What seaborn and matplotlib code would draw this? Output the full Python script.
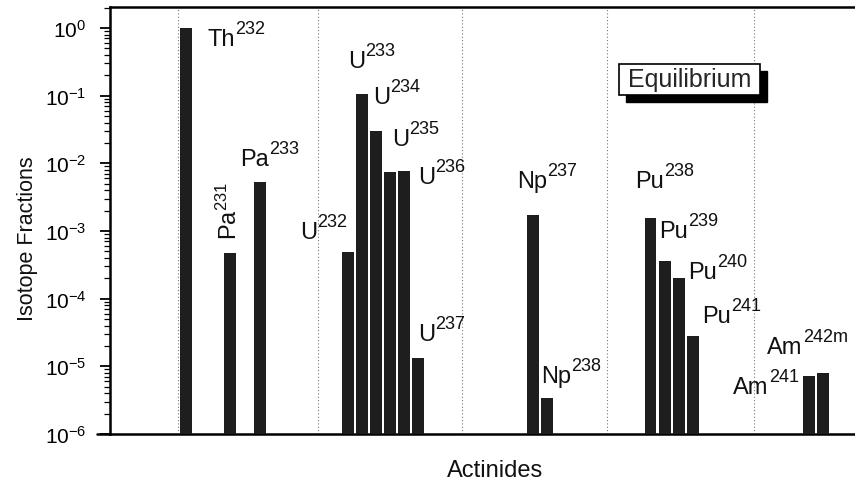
import numpy as np
import pandas as pd
import matplotlib
matplotlib.use("Agg")
import matplotlib.pyplot as plt
import seaborn as sns
from matplotlib.patches import Rectangle
from matplotlib.ticker import FixedLocator, LogFormatterMathtext, NullFormatter

# ---- data ----
isotopes = ["Th232", "Pa231", "Pa233",
            "U232", "U233", "U234", "U235", "U236", "U237",
            "Np237", "Np238",
            "Pu238", "Pu239", "Pu240", "Pu241",
            "Am241", "Am242m"]
positions = [5.4, 8.6, 10.7,
             17.0, 18.0, 19.0, 20.0, 21.0, 22.0,
             30.2, 31.2,
             38.6, 39.6, 40.6, 41.6,
             49.9, 50.9]
fractions = [1.0, 4.7e-4, 5.3e-3,
             4.9e-4, 0.106, 0.030, 7.4e-3, 7.7e-3, 1.34e-5,
             1.7e-3, 3.4e-6,
             1.55e-3, 3.6e-4, 2.0e-4, 2.8e-5,
             7.2e-6, 7.9e-6]
elements = ["Th", "Pa", "Pa",
            "U", "U", "U", "U", "U", "U",
            "Np", "Np",
            "Pu", "Pu", "Pu", "Pu",
            "Am", "Am"]
mass_labels = ["232", "231", "233",
               "232", "233", "234", "235", "236", "237",
               "237", "238",
               "238", "239", "240", "241",
               "241", "242m"]
y_major_ticks = [1e-6, 1e-5, 1e-4, 1e-3, 1e-2, 1e-1, 1e0]
group_edges = [4.86, 14.86, 25.14, 35.5, 46.0]

df = pd.DataFrame({"isotope": isotopes, "pos": positions, "fraction": fractions})

# ---- style ----
sns.set_theme(style="ticks")
plt.rcParams["font.family"] = ["Liberation Sans", "DejaVu Sans"]
plt.rcParams["mathtext.default"] = "regular"

fig = plt.figure(figsize=(8.55, 4.81), dpi=100)
ax = fig.add_axes([110 / 855, 46 / 481, 745 / 855, 427 / 481])

sns.barplot(data=df, x="pos", y="fraction", native_scale=True, width=0.85,
            color="#1e1e1e", saturation=1, linewidth=0, ax=ax, zorder=3)
ax.set_yscale("log")

ax.set_xlim(0, 53.2)
ax.set_ylim(1e-6, 2.04)
ax.set_xticks([])
ax.set_xticks([], minor=True)
ax.yaxis.set_major_locator(FixedLocator(y_major_ticks))
ax.yaxis.set_major_formatter(LogFormatterMathtext())
minor = [m * t for t in y_major_ticks for m in range(2, 10) if m * t < 2.04]
ax.yaxis.set_minor_locator(FixedLocator(minor))
ax.yaxis.set_minor_formatter(NullFormatter())

for gx in group_edges:
    ax.axvline(gx, color="#777777", linestyle=(0, (1, 2)), linewidth=0.8, zorder=1)

for side in ["left", "bottom", "top"]:
    ax.spines[side].set_visible(True)
    ax.spines[side].set_color("black")
    ax.spines[side].set_linewidth(1.8)
ax.spines["right"].set_visible(False)

ax.tick_params(axis="y", which="major", direction="out", length=7, width=1.3,
               labelsize=15, left=True, pad=10, colors="black")
ax.tick_params(axis="y", which="minor", direction="out", length=4, width=0.9,
               left=True, colors="black")
ax.tick_params(axis="x", which="both", bottom=False, top=False)

# x-axis line extends slightly left of y axis
ax.plot([-0.018, 0], [0, 0], transform=ax.transAxes, color="black", lw=1.8, clip_on=False)

ax.set_xlabel("Actinides", fontsize=17, color="#111111")
ax.set_ylabel("Isotope Fractions", fontsize=15.5, color="#111111")
ax.xaxis.set_label_coords(0.517, -0.058)
ax.yaxis.set_label_coords(-0.097, 0.459)

# ---- annotations (pixel positions converted to data) ----
def px2data(px, py):
    x = (px - 110) / 745 * 53.2
    ly = np.log10(1e-6) + (435 - py) / 427 * (np.log10(2.04) - np.log10(1e-6))
    return x, 10 ** ly

label_px = {
    "Th232": (207, 40), "Pa233": (240, 160),
    "U233": (348, 62), "U234": (373, 98), "U235": (392, 140), "U236": (418, 178),
    "U232": (300, 233), "U237": (418, 335),
    "Np237": (517, 182), "Np238": (541, 377),
    "Pu238": (635, 182), "Pu239": (659, 232), "Pu240": (688, 273), "Pu241": (702, 317),
    "Am242m": (767, 348), "Am241": (733, 388),
}
for iso, el, mass in zip(isotopes, elements, mass_labels):
    if iso not in label_px:
        continue
    px, py = label_px[iso]
    x, y = px2data(px, py)
    main = ax.text(x, y, el, fontsize=17, ha="left", va="center",
                   color="#111111", zorder=4)
    ax.annotate(mass, xy=(1.0, 0.76), xycoords=main, xytext=(0.3, 0),
                textcoords="offset points", fontsize=13, ha="left", va="baseline",
                color="#111111", zorder=4)

# rotated Pa231
i = isotopes.index("Pa231")
x, y = px2data(229, 240)
ax.text(x, y, f"{elements[i]}$^{{{mass_labels[i]}}}$", fontsize=17, ha="center",
        va="bottom", rotation=90, color="#111111", zorder=4)

# Equilibrium box with shadow
bx0, by0, bw, bh = 619, 65, 141, 31
shadow = Rectangle(((bx0 + 7) / 855, 1 - (by0 + bh + 7) / 481), bw / 855, bh / 481,
                   transform=fig.transFigure, facecolor="black", edgecolor="black",
                   zorder=5)
box = Rectangle((bx0 / 855, 1 - (by0 + bh) / 481), bw / 855, bh / 481,
                transform=fig.transFigure, facecolor="white", edgecolor="black",
                linewidth=1.2, zorder=6)
fig.add_artist(shadow)
fig.add_artist(box)
fig.text((bx0 + bw / 2) / 855, 1 - (by0 + bh / 2) / 481, "Equilibrium",
         fontsize=18, ha="center", va="center", zorder=7)

fig.savefig("out.png", dpi=100)
